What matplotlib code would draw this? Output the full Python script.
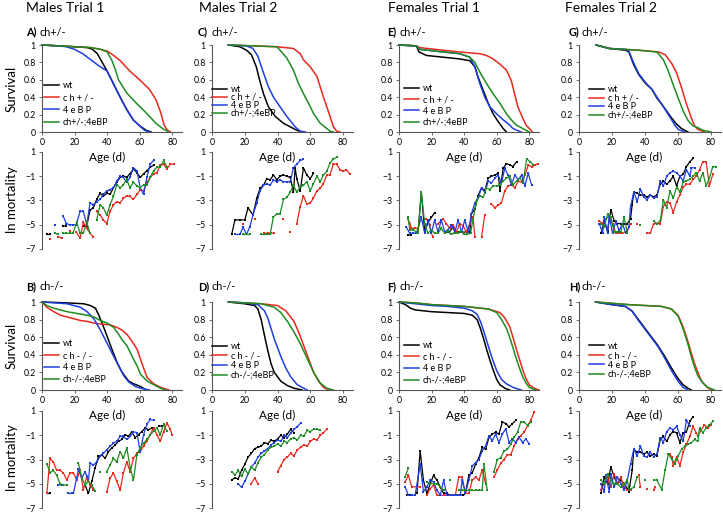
import numpy as np
import matplotlib.pyplot as plt
from matplotlib.lines import Line2D

nan = np.nan
plt.rcParams['font.family'] = ['Lato', 'DejaVu Sans']

# ---------------- survival curves (age in days, fraction alive) ----------------
A_wt_age = [0, 10, 20, 28, 31, 34, 37, 40, 44, 48, 52, 56, 60, 64, 67]
A_wt_s = [1, 0.99, 0.98, 0.97, 0.95, 0.9, 0.8, 0.7, 0.55, 0.4, 0.26, 0.14, 0.07, 0.02, 0]
A_ch_age = [0, 10, 20, 30, 36, 40, 44, 48, 54, 60, 66, 70, 73, 75, 77, 79]
A_ch_s = [1, 0.99, 0.98, 0.97, 0.95, 0.93, 0.88, 0.82, 0.70, 0.6, 0.49, 0.37, 0.22, 0.08, 0.02, 0]
A_4e_age = [0, 10, 15, 20, 25, 30, 35, 40, 44, 48, 52, 56, 60, 63, 66]
A_4e_s = [1, 0.99, 0.98, 0.95, 0.9, 0.83, 0.76, 0.7, 0.55, 0.4, 0.26, 0.14, 0.07, 0.02, 0]
A_dbl_age = [0, 10, 20, 30, 36, 40, 43, 45, 47, 52, 58, 64, 70, 74, 78]
A_dbl_s = [1, 0.99, 0.98, 0.97, 0.95, 0.92, 0.82, 0.72, 0.6, 0.45, 0.33, 0.22, 0.1, 0.04, 0]

C_wt_age = [10, 17, 21, 24, 27, 29, 31.4, 34.4, 38.5, 43.6, 47.7, 51.7, 55]
C_wt_s = [1, 0.98, 0.94, 0.89, 0.75, 0.6, 0.44, 0.29, 0.18, 0.1, 0.06, 0.02, 0]
C_ch_age = [10, 39.5, 49.7, 53.8, 55.8, 59.9, 64, 66, 68, 70, 72, 74, 76, 78]
C_ch_s = [1, 0.98, 0.96, 0.9, 0.83, 0.75, 0.64, 0.52, 0.4, 0.29, 0.18, 0.06, 0.01, 0]
C_4e_age = [10, 21, 25, 28, 31.4, 34.4, 37.5, 41.5, 45.6, 50.7, 53.8, 57]
C_4e_s = [1, 0.99, 0.96, 0.87, 0.68, 0.52, 0.4, 0.29, 0.18, 0.06, 0.01, 0]
C_dbl_age = [10, 39.5, 41.5, 45.6, 49.7, 52.7, 55.8, 58.9, 62, 66, 70, 72, 74]
C_dbl_s = [1, 0.98, 0.94, 0.85, 0.71, 0.56, 0.44, 0.33, 0.21, 0.1, 0.04, 0.01, 0]

E_wt_age = [0, 10.7, 12.3, 16.8, 27, 37.3, 43.5, 46.6, 48.6, 51.7, 54.8, 57.8, 60.9, 64, 66]
E_wt_s = [1, 0.99, 0.92, 0.88, 0.86, 0.84, 0.82, 0.75, 0.63, 0.48, 0.33, 0.21, 0.12, 0.04, 0]
E_ch_age = [0, 10.7, 12.7, 27, 37.3, 49.6, 53.7, 57.8, 62, 66, 69, 71, 73, 76, 78, 82]
E_ch_s = [1, 0.99, 0.97, 0.94, 0.92, 0.9, 0.88, 0.84, 0.78, 0.71, 0.59, 0.44, 0.29, 0.16, 0.08, 0]
E_4e_age = [0, 10.7, 12.7, 27, 37.3, 43.5, 46.6, 49.6, 52.7, 55.8, 59.9, 64, 68, 70, 75]
E_4e_s = [1, 0.99, 0.95, 0.92, 0.9, 0.86, 0.75, 0.56, 0.4, 0.29, 0.21, 0.14, 0.08, 0.04, 0]
E_dbl_age = [0, 10.7, 12.7, 27, 37.3, 43.5, 46.6, 49.6, 53.7, 57.8, 62, 66, 69, 72, 76, 80]
E_dbl_s = [1, 0.99, 0.95, 0.92, 0.9, 0.86, 0.8, 0.69, 0.56, 0.44, 0.33, 0.21, 0.14, 0.08, 0.04, 0]

G_wt_age = [10.3, 18.3, 28.3, 30.2, 33.2, 36.2, 40.2, 44.2, 47.2, 50.1, 53.1, 56.1, 59.1, 62.1, 66]
G_wt_s = [1, 0.96, 0.94, 0.92, 0.77, 0.66, 0.56, 0.49, 0.39, 0.32, 0.24, 0.16, 0.09, 0.04, 0]
G_ch_age = [10.3, 18.3, 36.2, 48.2, 52.1, 56.1, 59.1, 62.1, 65.1, 68.1, 70, 72, 76]
G_ch_s = [1, 0.96, 0.94, 0.92, 0.89, 0.79, 0.68, 0.51, 0.32, 0.16, 0.07, 0.03, 0]
G_4e_age = [10.3, 18.3, 28.3, 30.2, 33.2, 36.2, 40.2, 44.2, 47.2, 50.1, 53.1, 56.1, 58, 60.1, 64]
G_4e_s = [1, 0.96, 0.95, 0.93, 0.79, 0.67, 0.57, 0.49, 0.4, 0.32, 0.23, 0.14, 0.08, 0.03, 0]
G_dbl_age = [10.3, 18.3, 36.2, 47.2, 51.1, 54.1, 57.1, 60.1, 63.1, 66.1, 69.1, 72, 75, 80]
G_dbl_s = [1, 0.96, 0.94, 0.92, 0.83, 0.7, 0.54, 0.39, 0.24, 0.13, 0.07, 0.05, 0.02, 0]

B_wt_age = [0, 15.4, 25.6, 29.7, 32.8, 34.9, 36.9, 40, 43, 46.2, 49.2, 53.3, 56.4, 60.5, 64]
B_wt_s = [1, 0.99, 0.98, 0.96, 0.93, 0.85, 0.76, 0.61, 0.46, 0.31, 0.2, 0.1, 0.07, 0.04, 0]
B_ch_age = [0, 3, 7.2, 11.3, 15.4, 19.5, 23.6, 27.7, 31.8, 35.9, 42, 46.2, 49.2, 52.3, 55.4, 58.5, 60.5, 62.6, 64.6, 68.7, 72.8, 78]
B_ch_s = [1, 0.94, 0.89, 0.85, 0.83, 0.81, 0.79, 0.78, 0.76, 0.75, 0.74, 0.71, 0.68, 0.63, 0.55, 0.46, 0.35, 0.24, 0.14, 0.07, 0.03, 0]
B_4e_age = [0, 15.4, 23.6, 27.7, 31.8, 35.9, 40, 44.1, 47.2, 50.3, 53.3, 57.4, 60.5, 66]
B_4e_s = [1, 0.98, 0.94, 0.89, 0.81, 0.68, 0.53, 0.38, 0.27, 0.16, 0.09, 0.04, 0.02, 0]
B_dbl_age = [0, 3, 7.2, 11.3, 15.4, 21.5, 27.7, 31.8, 35.9, 40, 44.1, 47.2, 49.2, 52.3, 55.4, 58.5, 60.5, 64.6, 68.7, 72.8, 76]
B_dbl_s = [1, 0.96, 0.93, 0.91, 0.89, 0.87, 0.85, 0.83, 0.79, 0.76, 0.71, 0.63, 0.57, 0.5, 0.38, 0.27, 0.18, 0.1, 0.06, 0.02, 0]

D_wt_age = [10, 20, 26, 28, 30, 32, 34, 36, 38, 42, 46, 50, 55]
D_wt_s = [1, 0.98, 0.96, 0.92, 0.8, 0.62, 0.45, 0.3, 0.2, 0.1, 0.05, 0.02, 0]
D_ch_age = [10, 30, 40, 45, 50, 53, 56, 59, 62, 65, 68, 71]
D_ch_s = [1, 0.98, 0.96, 0.9, 0.78, 0.65, 0.5, 0.35, 0.2, 0.1, 0.03, 0]
D_4e_age = [10, 20, 28, 32, 34, 36, 38, 40, 42, 45, 48, 52, 58]
D_4e_s = [1, 0.99, 0.97, 0.9, 0.82, 0.7, 0.58, 0.48, 0.38, 0.25, 0.15, 0.06, 0]
D_dbl_age = [10, 30, 38, 42, 46, 50, 54, 58, 62, 66, 70, 74]
D_dbl_s = [1, 0.98, 0.94, 0.88, 0.78, 0.66, 0.52, 0.36, 0.2, 0.08, 0.02, 0]

F_wt_age = [0, 4, 7, 10, 20, 30, 40, 45, 48, 50, 52, 54, 56, 58, 60, 62, 65, 68]
F_wt_s = [1, 0.97, 0.93, 0.91, 0.89, 0.88, 0.87, 0.85, 0.8, 0.7, 0.58, 0.45, 0.33, 0.22, 0.12, 0.06, 0.02, 0]
F_ch_age = [0, 10, 20, 40, 55, 62, 65, 68, 70, 72, 74, 76, 78, 80, 83, 86]
F_ch_s = [1, 0.99, 0.97, 0.95, 0.92, 0.88, 0.82, 0.72, 0.6, 0.47, 0.35, 0.23, 0.13, 0.06, 0.02, 0]
F_4e_age = [0, 10, 20, 30, 40, 45, 48, 50, 52, 54, 56, 58, 60, 63, 66, 70, 75]
F_4e_s = [1, 0.98, 0.96, 0.95, 0.93, 0.9, 0.86, 0.78, 0.67, 0.55, 0.43, 0.32, 0.22, 0.12, 0.07, 0.03, 0]
F_dbl_age = [0, 10, 20, 40, 55, 60, 63, 66, 68, 70, 72, 74, 76, 78, 80, 84]
F_dbl_s = [1, 0.99, 0.97, 0.95, 0.92, 0.88, 0.8, 0.7, 0.6, 0.48, 0.36, 0.25, 0.15, 0.08, 0.03, 0]

H_wt_age = [10, 20, 28, 32, 36, 40, 44, 48, 52, 56, 60, 63, 66, 68]
H_wt_s = [1, 0.97, 0.95, 0.9, 0.8, 0.7, 0.6, 0.5, 0.38, 0.25, 0.13, 0.06, 0.02, 0]
H_ch_age = [10, 30, 50, 56, 60, 63, 66, 68, 70, 72, 74, 77, 80]
H_ch_s = [1, 0.97, 0.95, 0.92, 0.85, 0.72, 0.55, 0.42, 0.3, 0.2, 0.11, 0.04, 0]
H_4e_age = [10, 20, 28, 32, 36, 40, 44, 48, 52, 56, 60, 63, 66]
H_4e_s = [1, 0.97, 0.95, 0.9, 0.79, 0.69, 0.59, 0.49, 0.36, 0.22, 0.1, 0.03, 0]
H_dbl_age = [10, 30, 50, 56, 60, 63, 66, 68, 70, 72, 75, 78, 82]
H_dbl_s = [1, 0.97, 0.95, 0.92, 0.84, 0.7, 0.52, 0.38, 0.26, 0.16, 0.08, 0.03, 0]

# ---------------- ln mortality (nan = gap) ----------------
A_wt_mage = [3, 5, nan, 13, 15, nan, 25.5, 27.5, 29.5, 31.5, 33.6, 35.7, 37.7, 39.8, 41.8, 43.9, 45.9, 48, 50, 52, 54, 56.2, 58.3, 60.3, 62.4, 64.4, 66.5, 68.5]
A_wt_m = [-5.8, -5.8, nan, -5.1, -5.1, nan, -5.1, -5.1, -3.8, -3.6, -2.9, -2.4, -2.65, -2.4, -2.5, -1.95, -1.5, -1.1, -0.97, -1.1, -0.8, -0.4, -0.7, -1.1, -0.8, -0.55, -0.25, -0.1]
A_ch_mage = [5, nan, 10, 12, nan, 17, nan, 21, 23.4, 25.4, 27.5, 29.5, 31.6, nan, 33.6, 35.7, 37.7, 39.8, 41.8, 43.9, 45.9, 48, 50, 52, 54, 56.2, 58.3, 60.3, 62.4, 64.4, 66.5, 68.5, 70.6, 72.6, 74.7, 76.7, 78.8, 80.8]
A_ch_m = [-6.2, nan, -6.0, -6.1, nan, -5.5, nan, -5.6, -6.1, -4.8, -5.3, -5.7, -6.0, nan, -3.9, -4.2, -4.6, -4.9, -3.9, -3.35, -3.1, -3.2, -2.8, -2.65, -2.65, -2.9, -2.5, -2.1, -2.2, -1.5, -1.1, -0.8, -0.7, -0.1, 0.0, -0.4, 0.0, 0.0]
A_4e_mage = [8, nan, 13, 15, 17, 19, 21, 23.4, 25.4, 27.5, 29.5, 31.6, 33.6, 35.7, 37.7, 39.8, 41.8, 43.9, 45.9, 48, 50, 52, 54, 56.2, 58.3, 60.3, 62.4, 64.4, 66.5, 68.5]
A_4e_m = [-5.0, nan, -4.3, -4.9, -5.0, -5.0, -5.0, -3.9, -3.9, -5.0, -3.2, -3.35, -3.1, -2.9, -2.5, -2.2, -2.1, -1.95, -1.4, -1.0, -1.1, -1.5, -1.1, -0.3, -0.55, -1.95, -2.5, -1.1, 0.0, 0.3]
A_dbl_mage = [8, 10, nan, 13, 15, 17, 19, 21.3, 23.4, 25.4, 27.5, 29.5, nan, 33.6, 35.7, 37.7, 39.8, 41.8, 43.9, 45.9, 48, 50, 52, 54, 56.2, 58.3, 60.3, 62.4, 64.4, 66.5, 68.5, 70.6, 72.6, 74.7, 76.7]
A_dbl_m = [-5.7, -5.8, nan, -5.7, -5.7, -5.7, -5.7, -4.8, -5.7, -5.7, -4.8, -5.7, nan, -4.6, -3.35, -3.6, -4.2, -3.35, -2.65, -1.7, -1.95, -1.7, -1.25, -1.95, -1.5, -1.8, -1.95, -1.7, -1.7, -1.1, -0.55, -0.25, -0.25, 0.3, -0.25]

C_wt_mage = [12, 14, 17, 20, 22, 25, 27.3, 29.3, 31.4, 33.4, 35.4, 37.5, 39.5, 41.5, 43.6, 45.6, 47.7, 49.7, 50.7, 51.7, 53.8, 55.8, 57.8, 59.9, 61.9]
C_wt_m = [-5.8, -4.6, -4.6, -4.6, -3.6, -4.2, -2.8, -2.0, -1.75, -1.2, -1.3, -0.9, -1.3, -1.0, -0.9, -1.0, -1.1, -2.3, -0.3, -1.2, -2.2, -0.3, -0.9, -1.2, -0.75]
C_ch_mage = [17, nan, 19, nan, 26, nan, 32, 34, 36, 38, nan, 43.6, nan, 47.7, nan, 51.7, 53.8, 55.8, 57.8, 59.9, 61.9, 64, 66, 68, 70, 72, 74, 76, 78, 80, 82, 84]
C_ch_m = [-5.8, nan, -4.9, nan, -4.5, nan, -5.7, -5.7, -5.7, -5.7, nan, -4.5, nan, -5.6, nan, -4.9, -3.5, -2.6, -3.3, -3.2, -2.8, -2.2, -2.0, -1.6, -0.9, -0.9, 0.0, 0.0, -0.45, -0.6, -0.45, -0.8]
C_4e_mage = [14, 17, 19, 21, 23, 25, 27.3, 29.3, 31.4, 33.4, 35.4, 37.5, 39.5, 41.5, 43.6, 45.6, 47.7, 49.7, 51.7, 53.8, 55.8]
C_4e_m = [-5.8, -5.8, -5.2, -5.8, -5.2, -4.2, -3.2, -2.2, -1.75, -1.6, -1.75, -1.3, -1.45, -1.3, -1.45, -1.45, -1.45, -0.3, 0.0, 0.3, 0.4]
C_dbl_mage = [19, 21, 23, nan, 30, 33.4, 35.4, 37.5, 39.5, 41.5, 43.6, 45.6, 47.7, 49.7, 51.7, 53.8, 55.8, 57.8, 59.9, 61.9, 64, 66, 68, 70, 72, 74, 76]
C_dbl_m = [-5.8, -5.8, -5.8, nan, -5.8, -5.8, -5.8, -4.35, -4.1, -4.1, -2.9, -2.75, -2.3, -1.75, -2.3, -1.9, -1.75, -1.45, -2.2, -1.6, -1.0, -1.45, -0.9, -0.6, 0.1, 0.4, 0.57]

E_wt_mage = [5.5, 7.5, nan, 11.7, 13.7, 15.8, 17.8, 19.9, 21.9, nan, 29, 31, 33, 35, 37, 39, 41.4, 43.5, 44.5, 46.6, 48.6, 50.7, 52.7, 54.8, 56.8, 58.9, 60.9, 62, 64, 66, 68, 70, 72.2]
E_wt_m = [-5.85, -5.85, nan, -5.7, -2.3, -5.6, -4.8, -4.4, -4.0, nan, -5.6, -5.6, -5.2, -5.6, -5.6, -5.6, -5.6, -5.6, -4.1, -3.7, -2.6, -1.95, -2.2, -1.15, -1.0, -0.9, -0.75, -2.2, -0.35, 0.05, -0.05, -0.2, 0.2]
E_ch_mage = [5.5, 6.6, 7.6, 9.6, 11.7, nan, 16.8, 18.8, 19.9, 20.9, nan, 24, 27, 29, 31.2, 33.2, 35.3, 37.3, 39.4, 41.4, 43.5, 45.5, 46.6, nan, 50.7, 52.7, nan, 56.8, 58.9, 60.9, 62.9, 65, 67, 69.1, 71.2, 73.2, 75.3, 77.3, 79.4, 81.4, 83.5, 85.5]
E_ch_m = [-4.5, -4.9, -5.3, -5.3, -5.3, nan, -4.5, -5.0, -5.7, -6.0, nan, -4.9, -4.5, -4.9, -5.3, -5.0, -5.6, -4.9, -5.1, -5.6, -4.9, -4.4, -6.0, nan, -6.0, -4.2, nan, -3.3, -3.6, -3.4, -3.2, -2.2, -1.8, -1.7, -1.95, -1.4, -1.5, -0.9, -0.1, -0.2, -0.1, 0.05]
E_4e_mage = [4.5, 6.6, 8.6, 10.7, 13.7, 15.8, 17.8, 19.9, 21.9, 24, 26, 28.1, 30.2, 32.2, 34.3, 36.3, 38.4, 40.4, 42.5, 44.5, 46.6, 48.6, 50.7, 52.7, 54.8, 56.8, 58.9, 60.9, 62.9, 65, 67, 69.1, 71.2, 73.2, 75.3, 77.3, 79.4, 81.4]
E_4e_m = [-5.2, -5.7, -5.7, -5.7, -4.4, -5.7, -4.6, -5.7, -4.6, -5.6, -4.6, -5.6, -5.4, -5.0, -5.6, -4.6, -5.6, -4.6, -5.6, -4.1, -3.2, -2.8, -1.95, -2.35, -1.4, -1.55, -1.15, -0.9, -1.55, -0.35, -0.9, -1.7, -0.9, -1.3, -0.9, -1.8, -0.75, -1.7]
E_dbl_mage = [5.5, 6.6, 8.6, 11.7, 13.7, 15.8, 17.8, 19.9, 21.9, 24, 26, 28, 30, 32, 34, 36, 38, 40, 42, 44, 45.5, 47.6, 49.6, 51.7, 53.7, 55.8, 57.8, 59.9, 62, 64, 66, 68, 70, 72.2, 74.3, 76.3, 78.4, 80.4, 82.5]
E_dbl_m = [-4.4, -5.4, -5.4, -5.7, -2.3, -4.9, -5.7, -5.4, -5.7, -5.7, -5.3, -5.7, -5.5, -5.8, -5.7, -5.7, -5.5, -5.8, -5.8, -5.7, -4.5, -3.1, -2.6, -2.75, -1.95, -2.1, -1.8, -1.8, -1.7, -1.4, -1.15, -1.0, -1.7, -1.4, -1.15, -1.55, 0.45, 0.2, -0.05]

G_wt_mage = [13.3, 15.3, 17.3, 19.3, 21.3, 23.3, 25.3, 27.3, 29.3, 31.2, 32.2, 33.2, 35.2, 37.2, 39.2, 41.2, 43.2, 45.2, 47.2, 49.2, 51.1, 53.1, 55.1, 57.1, 59.1, 61.1, 63.1, 65.1, 67.1, 69.1]
G_wt_m = [-5.7, -4.7, -5.5, -3.75, -4.7, -4.9, -4.9, -4.9, -4.9, -4.5, -3.35, -2.3, -2.4, -2.55, -2.55, -2.7, -2.55, -2.7, -2.55, -1.65, -1.4, -1.65, -1.4, -1.0, -1.8, -1.0, -0.85, -0.2, 0.2, 0.47]
G_ch_mage = [12.3, 14.3, 16.3, 18.3, 20.3, 22.3, 24.3, 26.3, 29.3, 31.2, nan, 35.2, nan, 41.2, 43.2, 45.2, 47.2, 49.2, 51.1, 53.1, 55.1, 57.1, 59.1, 61.1, 63.1, 65.1, 67.1, 69.1, 71, 73, 75, 77, 79, 81]
G_ch_m = [-4.7, -4.9, -4.5, -4.3, -4.9, -5.7, -5.7, -5.7, -5.5, -4.9, nan, -4.9, nan, -5.7, -5.7, -4.9, -4.9, -4.9, -3.5, -3.1, -3.2, -4.0, -3.1, -2.55, -1.9, -1.65, -1.65, -1.25, -1.0, -0.45, 0.2, 0.2, -1.8, -0.85]
G_4e_mage = [12.3, 14.3, 15.3, 17.3, 18.3, 20.3, 22.3, 24.3, 26.3, 28.3, 30.2, 31.2, 33.2, 35.2, 37.2, 39.2, 41.2, 43.2, 45.2, 47.2, 49.2, 51.1, 53.1, 55.1, 57.1, 59.1, 61.1, 63.1, 65.1, 67.1, 68.1, 70]
G_4e_m = [-4.9, -5.7, -4.4, -5.7, -4.25, -5.7, -4.7, -5.5, -4.9, -5.7, -5.2, -3.5, -2.3, -3.1, -2.05, -2.7, -2.95, -2.55, -2.8, -2.7, -1.4, -1.8, -1.0, -0.7, -0.6, -0.7, -1.0, -1.4, -0.45, -1.0, -0.3, -0.3]
G_dbl_mage = [13.3, 15.3, 17.3, 19.3, 21.3, 23.3, 25.3, 27.3, 29.3, nan, 37.2, nan, 45.2, 47.2, 49.2, 51.1, 53.1, 55.1, 57.1, 59.1, 61.1, 63.1, 65.1, 67.1, 69.1, 71, 73, 75, 77, 79, 81, 83]
G_dbl_m = [-4.9, -5.2, -4.1, -4.4, -5.6, -5.6, -5.6, -4.4, -5.7, nan, -5.0, nan, -4.7, -4.9, -4.7, -2.95, -3.6, -2.2, -2.8, -1.9, -2.3, -1.5, -1.4, -1.25, -1.0, -0.7, -1.4, -0.7, -1.8, -1.15, -0.2, -0.2]

B_wt_mage = [3, 5, nan, 12, nan, 26.5, 28.5, 30.6, 32.6, 34.7, 36.7, 38.8, 40.8, 42.9, 44.9, 47, 49, 51.1, 53.1, 55.2, 57.2, 59.3, 61.3, 63.4, 65.4, 67.5, nan, 71.6, 73.6]
B_wt_m = [-5.8, -5.8, nan, -5.1, nan, -5.1, -5.8, -4.8, -3.7, -2.75, -2.6, -2.9, -2.35, -2.05, -1.8, -1.5, -1.35, -0.95, -1.1, -0.7, -1.2, -0.95, -0.7, -0.4, -0.55, -0.4, nan, -0.25, -0.25]
B_ch_mage = [3, 4.9, 7, 9, 11.1, 13.1, 15.2, 17.2, 19.3, 21.3, 23.4, 25.4, 27.5, 29.5, 31.6, nan, 39.8, 41.8, 43.9, 45.9, 48, 50, 52.1, 54.2, 56.2, 58.3, 60.3, 62.4, 64.4, 66.5, 68.5, 70.6, 72.6, 74.7, 76.7, 78.8, 79.8]
B_ch_m = [-5.8, -2.9, -3.2, -3.9, -3.9, -4.1, -4.7, -4.1, -4.1, -4.7, -3.9, -5.5, -4.4, -5.1, -5.5, nan, -5.7, -4.55, -4.1, -4.8, -5.5, -4.1, -3.2, -4.0, -2.9, -2.5, -2.35, -1.9, -1.5, -0.95, -0.4, -0.95, -1.5, -0.7, 0.0, -0.5, -0.95]
B_4e_mage = [10, 12, nan, 16.2, 18.2, 19.3, 22.4, 24.4, 26.5, 28.5, 29.5, 31.6, 33.6, 35.7, 37.7, 39.8, 41.8, 43.9, 45.9, 48, 50, 52.1, 54.2, 56.2, 58.3, 60.3, 62.4, 64.4, 66.5, 68.5]
B_4e_m = [-5.1, -5.1, nan, -5.8, -5.8, -5.8, -3.8, -4.55, -4.0, -4.8, -3.3, -3.45, -3.2, -2.75, -2.5, -2.2, -1.9, -1.65, -1.5, -1.1, -1.1, -1.35, -1.1, -0.7, -0.8, -2.35, -0.95, -0.1, 0.3, 0.22]
B_dbl_mage = [3, 4.9, 7, 9, 11.1, 13.1, 15.2, nan, 22.4, 24.4, 26.5, 28.5, 30.6, 32.6, nan, 35.7, nan, 39.8, 41.8, 43.9, 45.9, 48, 50, 52.1, 54.2, 56.2, 58.3, 60.3, 62.4, 64.4, 66.5, 68.5, 70.6, 72.6, 74.7, 76.7]
B_dbl_m = [-3.35, -4.1, -3.9, -4.3, -5.0, -5.1, -5.1, nan, -3.3, -4.5, -5.1, -4.8, -5.1, -5.6, nan, -4.0, nan, -4.0, -3.45, -2.9, -3.2, -2.35, -2.9, -2.05, -3.7, -4.7, -2.6, -2.05, -1.65, -1.35, -0.95, -0.67, -0.4, -0.95, -0.1, -0.67]

D_wt_mage = [12, 14, 16, 18, 20, 22, 24, 26, 28, 30, 32, 34, 36, 38, 40, 42, 44, 46, 48, 50]
D_wt_m = [-4.7, -4.5, -4.6, -3.9, -3.4, -2.8, -2.5, -2.1, -2.0, -1.9, -1.6, -1.7, -1.4, -1.5, -1.3, -1.0, -1.2, -0.9, -0.5, -0.8]
D_ch_mage = [18, nan, 24, 26, 28, nan, 40, 42, 44, 46, 48, 50, 52, 54, 56, 58, 60, 62, 64, 66, 68, 70]
D_ch_m = [-4.4, nan, -5.0, -4.5, -5.0, nan, -4.0, -3.5, -3.0, -2.8, -2.5, -2.7, -2.2, -2.0, -1.8, -1.9, -1.5, -1.3, -1.4, -1.0, -0.8, -0.5]
D_4e_mage = [16, 18, 20, 22, 24, 26, 28, 30, 32, 34, 36, 38, 40, 42, 44, 46, 48, 50, 52, 54]
D_4e_m = [-5.0, -5.3, -4.8, -4.2, -3.6, -3.3, -2.8, -2.5, -2.3, -2.1, -1.8, -1.6, -1.4, -1.5, -1.0, -1.2, -0.8, -0.5, -0.3, 0.0]
D_dbl_mage = [12, 14, 16, 18, 20, 22, 24, 26, 28, 30, 32, 34, 36, 38, 40, 42, 44, 46, 48, 50, 52, 54, 56, 58, 60, 62, 64, 66]
D_dbl_m = [-4.0, -4.3, -3.9, -4.4, -3.8, -4.2, -3.6, -3.9, -3.3, -2.8, -2.6, -2.2, -2.0, -1.9, -1.7, -1.9, -1.5, -1.6, -1.3, -1.2, -1.4, -1.0, -1.1, -0.6, -0.7, -0.5, -0.5, -0.6]

F_wt_mage = [4.7, 6.8, nan, 11, 13, 15, 17.1, 19.2, 21.2, 23.3, 25.4, 27.4, 29.5, 31.5, 33.5, 35.5, 37.5, 39.5, 40.8, 42.9, 45, 47, 49.1, 51.1, 53.2, 55.3, 57.3, 59.4, 61.4, 63.5, 65.6, 67.6, 69.7, 71.8]
F_wt_m = [-5.95, -5.95, nan, -5.8, -2.3, -4.7, -5.8, -5.0, -4.3, -4.7, -5.3, -5.8, -5.8, -5.95, -5.9, -5.95, -5.9, -5.95, -5.8, -4.3, -4.1, -3.4, -2.85, -2.0, -2.15, -1.17, -0.9, -0.75, -0.9, 0.1, -0.04, -0.32, -0.04, 0.24]
F_ch_mage = [3.7, 5.8, 7.8, 10.9, 13, nan, 17.1, 19.2, 21.2, 23.3, 25.4, 27.4, 29.5, 31.5, 33.5, 34.6, 36.7, 38.8, 40.8, 42.9, 45, 47, 49.1, 51.1, 53.2, nan, 58.4, 60.4, 62.5, 64.5, 66.6, 68.7, 70.7, 72.8, 74.8, 76.9, 79, 81, 83.1]
F_ch_m = [-4.85, -4.3, -5.25, -5.25, -5.25, nan, -5.95, -5.4, -5.1, -5.95, -5.95, -5.95, -5.95, -5.95, -5.95, -5.95, -4.45, -4.45, -5.8, -5.8, -4.7, -4.45, -4.7, -3.85, -5.0, nan, -4.45, -3.85, -3.3, -3.0, -2.6, -2.6, -1.87, -1.3, -1.03, -0.75, -0.2, 0.24, 0.94]
F_4e_mage = [3.7, 5.8, 7.8, 9.9, 13, 15, 17.1, 19.2, 21.2, 23.3, 25.4, 27.4, 29.5, 31.5, 33.5, 35.6, 37.7, 38.8, 40.8, 42.9, 45, 47, 49.1, 51.1, 53.2, 55.3, 57.3, 59.4, 61.4, 63.5, 65.6, 67.6, 69.7, 71.8, 73.8, 75.9, 78, 80]
F_4e_m = [-5.25, -5.95, -5.95, -5.95, -3.4, -5.65, -5.25, -4.7, -4.85, -5.55, -5.95, -4.7, -5.95, -5.95, -5.95, -5.95, -5.9, -4.7, -5.8, -4.7, -3.55, -3.25, -3.0, -2.3, -1.87, -1.03, -1.45, -0.9, -1.6, -0.9, -0.47, -1.6, -1.3, -1.6, -1.17, -1.6, -1.3, -1.73]
F_dbl_mage = [3.7, 5.8, nan, 17.1, 19.2, 21.2, 23.3, 25.4, 27.4, nan, 31.5, nan, 36.7, 38.8, 40.8, 42.9, 45, 47, 49.1, 51.1, 52.2, 54.2, nan, 58.4, 60.4, 62.5, 64.5, 66.6, 68.7, 70.7, 72.8, 74.8, 76.9, 79, 81]
F_dbl_m = [-4.45, -3.7, nan, -4.85, -5.0, -5.0, -5.0, -5.25, -5.55, nan, -4.7, nan, -5.55, -5.55, -5.55, -5.55, -5.55, -5.55, -5.55, -5.55, -3.4, -5.55, nan, -4.0, -3.0, -2.85, -2.3, -2.15, -1.73, -1.17, -0.75, 0.1, 0.1, -0.2, 0.1]

H_wt_mage = [13.3, 15.3, 17.3, 19.3, 21.3, 23.3, 25.3, 27.3, 29.3, 30.2, 32.2, 33.2, 35.2, 37.2, 39.2, 41.2, 43.2, 45.2, 47.2, 49.2, 51.1, 53.1, 55.1, 57.1, 59.1, 61.1, 63.1, 65.1, 67.1, 69.1]
H_wt_m = [-5.8, -4.45, -5.0, -3.6, -4.45, -5.0, -4.7, -5.0, -5.4, -5.65, -3.9, -2.15, -2.4, -2.4, -2.55, -2.4, -2.7, -2.55, -2.7, -1.35, -1.1, -1.5, -0.95, -0.7, -0.8, -1.6, -0.8, -0.7, 0.14, 0.54]
H_ch_mage = [13.3, 15.3, 17.3, 19.3, 21.3, 23.3, 25.3, 27.3, 29.3, 31.2, nan, 36.2, 37.2, nan, 41.2, nan, 45.2, 46.2, nan, 55.1, 56.1, 57.1, 59.1, 61.1, 63.1, 65.1, 67.1, 69.1, 71, 72, 74, 76, 78, 80]
H_ch_m = [-5.5, -5.0, -4.45, -5.3, -4.2, -5.0, -4.45, -5.3, -5.5, -5.5, nan, -4.3, -5.3, nan, -5.4, nan, -5.5, -5.3, nan, -2.55, -2.8, -3.5, -2.8, -3.5, -2.4, -1.75, -1.1, -0.27, -0.8, -1.1, -0.55, -0.15, -0.4, -0.15]
H_4e_mage = [13.3, 15.3, 16.3, 18.3, 19.3, 21.3, 23.3, 25.3, 27.3, 29.3, 31.2, 33.2, 35.2, 37.2, 39.2, 41.2, 43.2, 45.2, 47.2, 49.2, 51.1, 53.1, 55.1, 57.1, 59.1, 61.1, 63.1, 65.1, 67.1]
H_4e_m = [-5.0, -5.65, -4.3, -5.65, -4.2, -5.3, -4.45, -5.0, -5.5, -4.7, -3.35, -2.15, -2.7, -1.9, -2.7, -2.8, -2.4, -2.8, -2.55, -1.2, -1.6, -0.7, -0.4, -0.55, -0.27, -0.95, -1.5, 0.27, -0.27]
H_dbl_mage = [13.3, 15.3, 17.3, 19.3, 21.3, 23.3, 25.3, 27.3, 29.3, 30.2, 33.2, 35.2, nan, 40.2, nan, 45.2, 47.2, 50.1, 52.1, 54.1, 56.1, 58.1, 60.1, 62.1, 64.1, 66.1, 68.1, 70, 72, 73, 75, 77, 79, 81]
H_dbl_m = [-4.7, -5.0, -4.2, -4.7, -5.0, -5.0, -5.3, -5.0, -4.7, -5.5, -5.3, -4.45, nan, -4.7, nan, -4.7, -4.7, -5.5, -3.9, -2.55, -2.95, -3.35, -2.7, -2.15, -1.9, -1.75, -1.6, -1.35, -1.5, -0.4, -0.8, -0.4, -0.15, 0.14]

# ---------------- text ----------------
col_titles = ['Males Trial 1', 'Males Trial 2', 'Females Trial 1', 'Females Trial 2']
top_letters = ['A)', 'C)', 'E)', 'G)']
bot_letters = ['B)', 'D)', 'F)', 'H)']
top_labels = ['wt', 'c h + / -', '4 e B P', 'ch+/-;4eBP']
bot_labels = ['wt', 'c h - / -', '4 e B P', 'ch-/-;4eBP']

colors = {'wt': 'black', 'ch': '#e8291c', '4e': '#1f3ee0', 'dbl': '#1e8c22'}
order = ['wt', 'ch', '4e', 'dbl']

panels = {
    'A': dict(s={'wt': (A_wt_age, A_wt_s), 'ch': (A_ch_age, A_ch_s), '4e': (A_4e_age, A_4e_s), 'dbl': (A_dbl_age, A_dbl_s)},
              m={'wt': (A_wt_mage, A_wt_m), 'ch': (A_ch_mage, A_ch_m), '4e': (A_4e_mage, A_4e_m), 'dbl': (A_dbl_mage, A_dbl_m)}),
    'C': dict(s={'wt': (C_wt_age, C_wt_s), 'ch': (C_ch_age, C_ch_s), '4e': (C_4e_age, C_4e_s), 'dbl': (C_dbl_age, C_dbl_s)},
              m={'wt': (C_wt_mage, C_wt_m), 'ch': (C_ch_mage, C_ch_m), '4e': (C_4e_mage, C_4e_m), 'dbl': (C_dbl_mage, C_dbl_m)}),
    'E': dict(s={'wt': (E_wt_age, E_wt_s), 'ch': (E_ch_age, E_ch_s), '4e': (E_4e_age, E_4e_s), 'dbl': (E_dbl_age, E_dbl_s)},
              m={'wt': (E_wt_mage, E_wt_m), 'ch': (E_ch_mage, E_ch_m), '4e': (E_4e_mage, E_4e_m), 'dbl': (E_dbl_mage, E_dbl_m)}),
    'G': dict(s={'wt': (G_wt_age, G_wt_s), 'ch': (G_ch_age, G_ch_s), '4e': (G_4e_age, G_4e_s), 'dbl': (G_dbl_age, G_dbl_s)},
              m={'wt': (G_wt_mage, G_wt_m), 'ch': (G_ch_mage, G_ch_m), '4e': (G_4e_mage, G_4e_m), 'dbl': (G_dbl_mage, G_dbl_m)}),
    'B': dict(s={'wt': (B_wt_age, B_wt_s), 'ch': (B_ch_age, B_ch_s), '4e': (B_4e_age, B_4e_s), 'dbl': (B_dbl_age, B_dbl_s)},
              m={'wt': (B_wt_mage, B_wt_m), 'ch': (B_ch_mage, B_ch_m), '4e': (B_4e_mage, B_4e_m), 'dbl': (B_dbl_mage, B_dbl_m)}),
    'D': dict(s={'wt': (D_wt_age, D_wt_s), 'ch': (D_ch_age, D_ch_s), '4e': (D_4e_age, D_4e_s), 'dbl': (D_dbl_age, D_dbl_s)},
              m={'wt': (D_wt_mage, D_wt_m), 'ch': (D_ch_mage, D_ch_m), '4e': (D_4e_mage, D_4e_m), 'dbl': (D_dbl_mage, D_dbl_m)}),
    'F': dict(s={'wt': (F_wt_age, F_wt_s), 'ch': (F_ch_age, F_ch_s), '4e': (F_4e_age, F_4e_s), 'dbl': (F_dbl_age, F_dbl_s)},
              m={'wt': (F_wt_mage, F_wt_m), 'ch': (F_ch_mage, F_ch_m), '4e': (F_4e_mage, F_4e_m), 'dbl': (F_dbl_mage, F_dbl_m)}),
    'H': dict(s={'wt': (H_wt_age, H_wt_s), 'ch': (H_ch_age, H_ch_s), '4e': (H_4e_age, H_4e_s), 'dbl': (H_dbl_age, H_dbl_s)},
              m={'wt': (H_wt_mage, H_wt_m), 'ch': (H_ch_mage, H_ch_m), '4e': (H_4e_mage, H_4e_m), 'dbl': (H_dbl_mage, H_dbl_m)}),
}

# layout in pixels
W, H = 723, 515
col_left = [42, 212, 399, 579]
col_width = [140, 141, 140, 142]
surv_rows = [(45, 132), (302, 390)]
mort_rows = [(152, 249), (411, 508)]
# legend: x offset (px), bottom offset (axes fraction), label spacing per panel
leg_dx = {'A': 2, 'C': 0, 'E': 5, 'G': 10, 'B': 2, 'D': 0, 'F': 5, 'H': 10}
leg_dy = {'A': 0.057, 'C': 0.16, 'E': 0.057, 'G': 0.138, 'B': 0.068, 'D': 0.114, 'F': 0.057, 'H': 0.125}
leg_sp = {'A': 0.38, 'C': -0.1, 'E': 0.27, 'G': -0.04, 'B': 0.32, 'D': 0.08, 'F': 0.3, 'H': 0.05}

fig = plt.figure(figsize=(W / 100, H / 100), dpi=100)


def px_axes(col, top, bottom):
    return fig.add_axes([col_left[col] / W, 1 - bottom / H, col_width[col] / W, (bottom - top) / H])


def style(ax):
    for s in ['top', 'right']:
        ax.spines[s].set_visible(False)
    for s in ['left', 'bottom']:
        ax.spines[s].set_color('#555555')
        ax.spines[s].set_linewidth(0.8)
    ax.tick_params(labelsize=6.3, length=2.5, width=0.6, color='#555555', pad=2)
    ax.patch.set_alpha(0)


grid = [['A', 'C', 'E', 'G'], ['B', 'D', 'F', 'H']]
for r in range(2):
    for c in range(4):
        key = grid[r][c]
        p = panels[key]
        labels = top_labels if r == 0 else bot_labels

        ax = px_axes(c, *surv_rows[r])
        style(ax)
        for k in order:
            x, y = p['s'][k]
            ax.plot(x, y, color=colors[k], lw=1.1, clip_on=False)
        ax.set_xlim(0, 86)
        ax.set_ylim(0, 1)
        ax.set_xticks([0, 20, 40, 60, 80])
        ax.set_yticks([0, 0.2, 0.4, 0.6, 0.8, 1])
        ax.set_yticklabels(['0', '0.2', '0.4', '0.6', '0.8', '1'])
        handles = [Line2D([], [], color=colors[k], lw=1.1) for k in order]
        dx = leg_dx[key] / col_width[c]
        ax.legend(handles, labels, loc='lower left', bbox_to_anchor=(dx, leg_dy[key]),
                  frameon=False, fontsize=6.5, handlelength=1.7, handletextpad=0.4,
                  labelspacing=leg_sp[key], borderaxespad=0, borderpad=0)

        mx = px_axes(c, *mort_rows[r])
        style(mx)
        mx.spines['bottom'].set_visible(False)
        for k in order:
            x, y = p['m'][k]
            mx.plot(x, y, color=colors[k], lw=0.9, marker='s', ms=1.6, mew=0)
        mx.set_xlim(0, 86)
        mx.set_ylim(-7, 1)
        mx.set_xticks([])
        mx.set_yticks([1, -1, -3, -5, -7])

        # Age label sits under the survival axis
        fig.text((col_left[c] + 65) / W, 1 - (surv_rows[r][1] + 25) / H, 'Age (d)',
                 ha='center', va='center', fontsize=8.5)

        # panel letter
        ly = 32 if r == 0 else 287
        lx = [26, 198, 387, 569][c]
        letter = top_letters[c] if r == 0 else bot_letters[c]
        gene = 'ch+/-' if r == 0 else 'ch-/-'
        fig.text(lx / W, 1 - ly / H, letter, fontsize=7.8, fontweight='bold', va='center')
        fig.text((lx + 13) / W, 1 - ly / H, gene, fontsize=7.8, va='center')

for c, t in enumerate(col_titles):
    fig.text([26, 199, 388, 565][c] / W, 1 - 8 / H, t, fontsize=10, va='center')

for yc in [89, 346]:
    fig.text(12 / W, 1 - yc / H, 'Survival', rotation=90, ha='center', va='center', fontsize=9.5)
for yc in [200, 458]:
    fig.text(12 / W, 1 - yc / H, 'ln mortality', rotation=90, ha='center', va='center', fontsize=9.5)

fig.savefig('out.png', dpi=100)
